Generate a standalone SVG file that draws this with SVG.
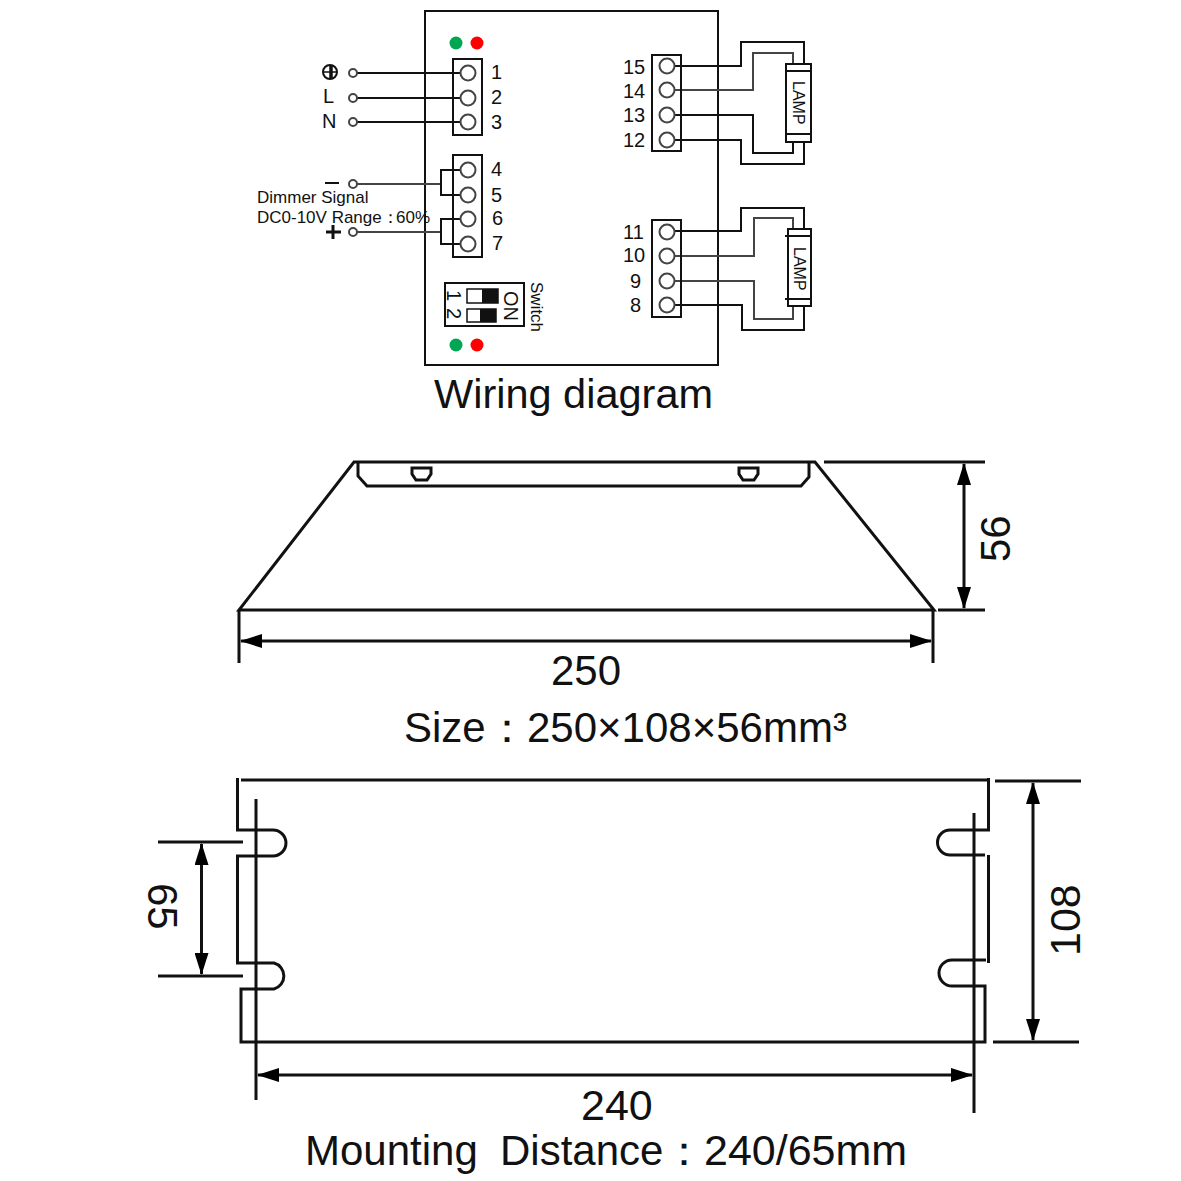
<svg xmlns="http://www.w3.org/2000/svg" width="1181" height="1181" viewBox="0 0 1181 1181">
<style>
text{font-family:"Liberation Sans",Arial,sans-serif;fill:#111}
.w{fill:none;stroke:#111;stroke-width:2}
.t{fill:none;stroke:#111;stroke-width:3}
.g{fill:none;stroke:#444;stroke-width:2}
.c{fill:#fff;stroke:#444;stroke-width:2}
.s{font-size:17px}
.n{font-size:20px}
.b{font-size:42px}
</style>
<defs>
<marker id="a" markerUnits="userSpaceOnUse" markerWidth="22" markerHeight="14" refX="21" refY="7" orient="auto-start-reverse"><path d="M0 0L22 7L0 14Z" fill="#000"/></marker>
</defs>
<rect width="1181" height="1181" fill="#fff"/>
<g id="wiring-box"><rect x="425" y="11" width="293" height="354" fill="none" stroke="#111" stroke-width="2"/></g>
<g id="connectors">
<path class="w" d="M353 73H468M353 98H468M353 122H468"/>
<path class="g" d="M353 184H441M353 232H441"/>
<path class="w" d="M468 170H441V195H468M468 219H441V244H468"/>
<path class="w" d="M667 66H741V42H804V64"/>
<path class="g" d="M667 90H753V53H793V64"/>
<path class="w" d="M667 115H753V153H793V142"/>
<path class="w" d="M667 140H741V164H804V142"/>
<path class="w" d="M667 231H741V208H804V229"/>
<path class="g" d="M667 256H754V218H793V229"/>
<path class="g" d="M667 281H754V319H793V306"/>
<path class="w" d="M667 305H742V330H804V306"/>
</g>
<g id="led-top"><circle cx="456" cy="43" r="6.500" fill="#00a651"/><circle cx="477" cy="43" r="6.500" fill="#f00"/></g>
<g id="led-bottom"><circle cx="456" cy="345" r="6.500" fill="#00a651"/><circle cx="477" cy="345" r="6.500" fill="#f00"/></g>
<g id="terminal-1-3"><rect class="w" x="453" y="59" width="29" height="76"/>
<circle class="c" cx="468" cy="73" r="7.500"/><circle class="c" cx="468" cy="98" r="7.500"/><circle class="c" cx="468" cy="122" r="7.500"/>
<text class="n" x="491" y="79">1</text><text class="n" x="491" y="104">2</text><text class="n" x="491" y="129">3</text></g>
<g id="terminal-4-7"><rect class="w" x="453" y="155" width="29" height="102"/>
<circle class="c" cx="468" cy="170" r="7.500"/><circle class="c" cx="468" cy="195" r="7.500"/><circle class="c" cx="468" cy="219" r="7.500"/><circle class="c" cx="468" cy="244" r="7.500"/>
<text class="n" x="491" y="176">4</text><text class="n" x="491" y="202">5</text><text class="n" x="492" y="225">6</text><text class="n" x="492" y="250">7</text></g>
<g id="inputs">
<circle class="c" cx="353" cy="73" r="4"/><circle class="c" cx="353" cy="98" r="4"/><circle class="c" cx="353" cy="122" r="4"/><circle class="c" cx="353" cy="184" r="4"/><circle class="c" cx="353" cy="232" r="4"/>
<circle cx="330" cy="72" r="7" fill="none" stroke="#111" stroke-width="2"/><path d="M323 72H337" stroke="#111" stroke-width="1.500"/><path d="M331 65V79" stroke="#111" stroke-width="3.500"/>
<text class="n" x="323" y="103">L</text><text class="n" x="322" y="128">N</text>
<path d="M325 183H339" stroke="#111" stroke-width="2"/>
<path d="M326 232H341M333 225V239" stroke="#111" stroke-width="3"/>
<text class="s" x="257" y="203">Dimmer Signal</text>
<text class="s" x="257" y="223">DC0-10V Range：<tspan x="396">60%</tspan></text></g>
<g id="switch"><rect class="w" x="445" y="283" width="79" height="43"/>
<rect x="467" y="289" width="31" height="14" fill="#fff" stroke="#111" stroke-width="1.500"/><rect x="482" y="289" width="16" height="14" fill="#111"/>
<rect x="467" y="309" width="29" height="13" fill="#fff" stroke="#111" stroke-width="1.500"/><rect x="480" y="309" width="16" height="13" fill="#111"/>
<text class="n" transform="translate(447 290) rotate(90)">1</text>
<text class="n" transform="translate(447 308) rotate(90)">2</text>
<text class="n" transform="translate(504 291) rotate(90)">ON</text>
<text class="s" transform="translate(531 282) rotate(90)">Switch</text></g>
<g id="terminal-12-15"><rect class="w" x="652" y="55" width="29" height="96"/>
<circle class="c" cx="667" cy="66" r="7.500"/><circle class="c" cx="667" cy="90" r="7.500"/><circle class="c" cx="667" cy="115" r="7.500"/><circle class="c" cx="667" cy="140" r="7.500"/>
<text class="n" x="623" y="74">15</text><text class="n" x="623" y="98">14</text><text class="n" x="623" y="122">13</text><text class="n" x="623" y="147">12</text></g>
<g id="terminal-8-11"><rect class="w" x="652" y="220" width="29" height="97"/>
<circle class="c" cx="667" cy="232" r="7.500"/><circle class="c" cx="667" cy="256" r="7.500"/><circle class="c" cx="667" cy="281" r="7.500"/><circle class="c" cx="667" cy="305" r="7.500"/>
<text class="n" x="623" y="239">11</text><text class="n" x="623" y="262">10</text><text class="n" x="630" y="288">9</text><text class="n" x="630" y="312">8</text></g>
<g id="lamp-1"><rect class="w" x="786" y="64" width="25" height="78"/><path class="w" d="M786 71H811M786 134H811"/>
<text class="s" transform="translate(793 81) rotate(90)" style="font-size:16px">LAMP</text></g>
<g id="lamp-2"><rect class="w" x="788" y="229" width="23" height="77"/><path class="w" d="M785 236H811M785 299H811"/>
<text class="s" transform="translate(794 247) rotate(90)" style="font-size:16px">LAMP</text></g>
<text x="434" y="408" style="font-size:41.500px">Wiring diagram</text>
<g id="side-view">
<path class="t" d="M354 462H815L934 610H239Z" stroke-linejoin="miter"/>
<path class="t" d="M358 462V476L367 486H801L809 477V462"/>
<path class="t" d="M412 468H431V474L427 480H416L412 474Z"/>
<path class="t" d="M739 468H758V474L754 480H743L739 474Z"/>
</g>
<g id="side-dims">
<path class="t" d="M824 462H985M938 610H985M239 610V663M933 610V663"/>
<path class="t" d="M964 464V608" marker-start="url(#a)" marker-end="url(#a)"/>
<path class="t" d="M241 641H931" marker-start="url(#a)" marker-end="url(#a)"/>
<text class="b" transform="translate(1010 562) rotate(-90)">56</text>
<text class="b" x="551" y="685">250</text>
</g>
<text class="b" x="404" y="742">Size：<tspan x="527">250×108×56mm³</tspan></text>
<g id="plan-view">
<path class="t" d="M241 780H988M237.500 778V830H273A13 13 0 0 1 273 856H237.500V963H274A13.500 13.500 0 0 1 274 989H241V1042H985V986H952A13 13 0 0 1 952 960H986"/>
<path class="t" d="M988.500 778V830H950A12.500 12.500 0 0 0 950 855H985M988.500 855V963"/>
<path class="t" d="M256 799V1100M974 813V1113"/>
</g>
<g id="plan-dims">
<path class="t" d="M158 842H243M158 976H243M995 781H1081M993 1042H1079"/>
<path class="t" d="M201.500 844V974" marker-start="url(#a)" marker-end="url(#a)"/>
<path class="t" d="M1033 783V1040" marker-start="url(#a)" marker-end="url(#a)"/>
<path class="t" d="M258 1075H972" marker-start="url(#a)" marker-end="url(#a)"/>
<text class="b" transform="translate(148 883) rotate(90)">65</text>
<text class="b" transform="translate(1080 956) rotate(-90)" style="font-size:43px">108</text>
<text class="b" x="581" y="1120" style="font-size:43px">240</text>
</g>
<text class="b" x="305" y="1165">Mounting<tspan x="500">Distance：</tspan><tspan x="704" style="font-size:43px">240/65mm</tspan></text>
</svg>
